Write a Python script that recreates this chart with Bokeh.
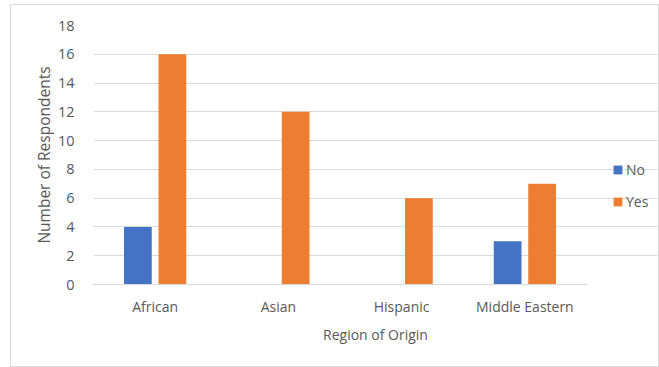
from bokeh.plotting import figure
from bokeh.models import Range1d, ColumnDataSource, Legend, LegendItem, FixedTicker
from bokeh.embed import file_html
from bokeh.resources import INLINE

# Survey responses by region of origin
regions = ["African", "Asian", "Hispanic", "Middle Eastern"]
no_counts = [4, 0, 0, 3]
yes_counts = [16, 12, 6, 7]
y_ticks = [0, 2, 4, 6, 8, 10, 12, 14, 16, 18]

BLUE = "#4472C4"
ORANGE = "#ED7D31"
GRID = "#D9D9D9"
TEXT = "#595959"
FONT = "Open Sans"

n = len(regions)
centers = [i + 0.5 for i in range(n)]
offset = 0.14
bar_w = 0.225

source = ColumnDataSource(data=dict(
    x_no=[c - offset for c in centers],
    x_yes=[c + offset for c in centers],
    no=no_counts,
    yes=yes_counts,
))

# The frame runs on to the right edge so the legend has room; the category
# axis and gridlines are bounded to the four categories.
p = figure(
    width=647, height=361,
    x_range=Range1d(0, 4.576),
    y_range=Range1d(0, 18),
    output_backend="svg", toolbar_location=None,
    min_border_left=82, min_border_right=1, min_border_top=20, min_border_bottom=82,
    styles={"margin-left": "11px", "margin-top": "5px",
            "outline": "1px solid #D9D9D9"},
)
p.outline_line_color = None
p.background_fill_color = "white"
p.border_fill_color = "white"

r_no = p.vbar(x="x_no", top="no", width=bar_w, source=source,
              fill_color=BLUE, line_color=None)
r_yes = p.vbar(x="x_yes", top="yes", width=bar_w, source=source,
               fill_color=ORANGE, line_color=None)

# Y axis
p.yaxis.ticker = FixedTicker(ticks=y_ticks)
p.yaxis.axis_line_color = None
p.yaxis.major_tick_line_color = None
p.yaxis.minor_tick_line_color = None
p.yaxis.major_label_standoff = 13
p.yaxis.major_label_text_font = FONT
p.yaxis.major_label_text_font_size = "14.5px"
p.yaxis.major_label_text_color = TEXT
p.yaxis.axis_label = "Number of Respondents"
p.yaxis.axis_label_text_font = FONT
p.yaxis.axis_label_text_font_size = "15.5px"
p.yaxis.axis_label_text_font_style = "normal"
p.yaxis.axis_label_text_color = TEXT
p.yaxis.axis_label_standoff = 0

# X axis (categories)
p.xaxis.ticker = FixedTicker(ticks=centers)
p.xaxis.major_label_overrides = {c: r for c, r in zip(centers, regions)}
p.xaxis.bounds = (0, n)
p.xaxis.axis_line_color = GRID
p.xaxis.major_tick_line_color = None
p.xaxis.minor_tick_line_color = None
p.xaxis.major_label_standoff = 6
p.xaxis.major_label_text_font = FONT
p.xaxis.major_label_text_font_size = "14px"
p.xaxis.major_label_text_color = TEXT
p.xaxis.axis_label = "Region of Origin"
p.xaxis.axis_label_text_font = FONT
p.xaxis.axis_label_text_font_size = "14px"
p.xaxis.axis_label_text_font_style = "normal"
p.xaxis.axis_label_text_color = TEXT
p.xaxis.axis_label_standoff = 6

p.xgrid.grid_line_color = None
p.ygrid.grid_line_color = GRID
p.ygrid.grid_line_width = 1
p.ygrid.bounds = (0, n)

# Legend to the right of the bars
legend = Legend(
    items=[LegendItem(label="No", renderers=[r_no]), LegendItem(label="Yes", renderers=[r_yes])],
    location=(519, 73),
    orientation="vertical",
    label_text_font=FONT,
    label_text_font_size="14px",
    label_text_color=TEXT,
    label_height=18,
    glyph_width=11, glyph_height=11,
    label_standoff=3,
    spacing=13,
    padding=0, margin=0,
    border_line_color=None,
    background_fill_alpha=0,
)
p.add_layout(legend, "center")

open("out.html", "w").write(file_html(p, INLINE))
